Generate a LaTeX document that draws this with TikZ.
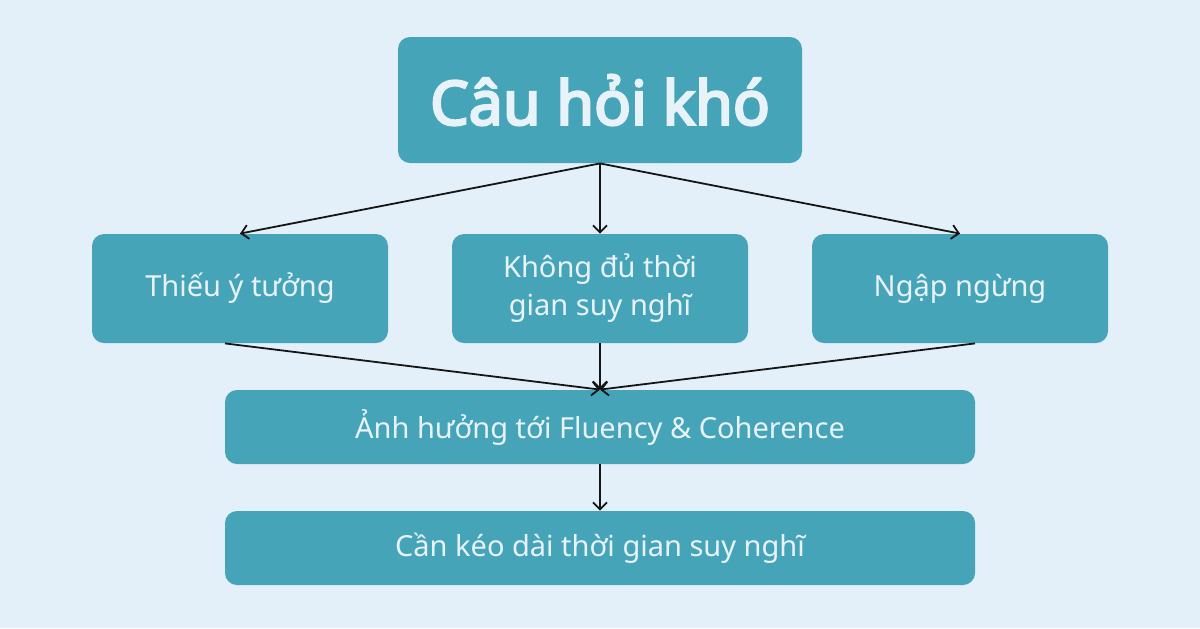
\documentclass[tikz,border=0pt]{standalone}
\usepackage{fontspec}
\setmainfont{Noto Sans}
\newfontfamily\titlefont{Noto Sans}[FakeBold=4]
\usetikzlibrary{arrows.meta}
\definecolor{bg}{HTML}{E3F0F9}
\definecolor{boxc}{HTML}{46A4B8}
\definecolor{txt}{HTML}{E8F3F9}
\definecolor{ln}{HTML}{151515}
\begin{document}
\begin{tikzpicture}[x=0.5pt,y=-0.5pt,
  box/.style={fill=boxc, rounded corners=6pt, text=txt, align=center, inner sep=0pt},
  lbl/.style={font=\fontsize{14.5}{19}\selectfont},
  conn/.style={draw=ln, line width=0.9pt, -{Straight Barb[length=3.5pt,width=7pt,line width=0.9pt]}}]
\fill[bg] (0,0) rectangle (1200,628);
\useasboundingbox (0,0) rectangle (1200,628);
\node[box, minimum width=202pt, minimum height=63pt, font=\titlefont\fontsize{30.5}{34}\selectfont] (top) at (600,100) {Câu hỏi khó};
\node[box, lbl, minimum width=148pt, minimum height=54.5pt] (a) at (240,288.5) {Thiếu ý tưởng};
\node[box, lbl, minimum width=148pt, minimum height=54.5pt] (b) at (600,288.5) {Không đủ thời\\gian suy nghĩ};
\node[box, lbl, minimum width=148pt, minimum height=54.5pt] (c) at (960,288.5) {Ngập ngừng};
\node[box, lbl, minimum width=375pt, minimum height=37pt] (d) at (600,427) {Ảnh hưởng tới Fluency \& Coherence};
\node[box, lbl, minimum width=375pt, minimum height=37pt] (e) at (600,548) {Cần kéo dài thời gian suy nghĩ};
\coordinate (tb) at (top.south);
\path (a.south) ++(-15,0) coordinate (as);
\path (c.south) ++(15,0) coordinate (cs);
\draw[conn] (tb) -- (a.north);
\draw[conn] (tb) -- (b.north);
\draw[conn] (tb) -- (c.north);
\draw[conn] (as) -- (d.north);
\draw[conn] (b.south) -- (d.north);
\draw[conn] (cs) -- (d.north);
\draw[conn] (d.south) -- (e.north);
\end{tikzpicture}
\end{document}
